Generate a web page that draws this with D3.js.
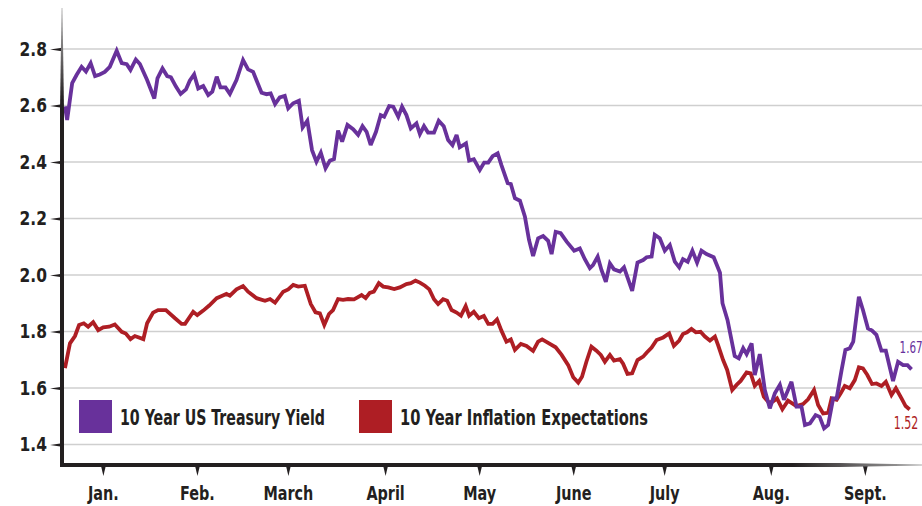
<!DOCTYPE html>
<html><head><meta charset="utf-8">
<script src="https://cdn.jsdelivr.net/npm/d3@7"></script>
<style>
html,body{margin:0;padding:0;background:#fff;}
svg{display:block;}
.lab{font-family:"DejaVu Sans Condensed","DejaVu Sans",sans-serif;font-weight:bold;fill:#231f20;}
.end{font-family:"DejaVu Sans Condensed","DejaVu Sans",sans-serif;}
</style></head><body>
<svg id="chart" width="922" height="506"></svg>
<script>
// day of year (Jan 1 = 0) and value
const yieldDays = [1.9,2.6,4.2,5.6,7.2,8.6,10.1,11.5,13.0,14.6,16.2,18.4,20.0,21.6,22.8,24.5,25.8,28.1,30.4,31.4,33.0,34.5,35.7,37.3,38.8,40.5,41.7,43.1,44.4,46.0,47.6,48.9,50.3,51.5,53.1,54.5,56.6,58.7,60.3,61.9,64.6,66.2,67.5,68.9,70.4,72.0,73.1,74.7,76.5,77.7,79.2,80.7,82.1,83.5,85.0,86.4,87.7,89.0,90.3,92.0,93.8,95.4,96.8,98.1,99.4,101.1,102.6,103.7,105.3,106.6,108.2,109.4,110.8,112.2,114.0,115.1,116.4,117.7,119.6,121.1,122.7,124.1,125.5,126.8,127.8,129.8,130.8,132.3,134.2,135.6,136.9,138.3,139.9,141.1,143.1,144.1,145.4,147.0,148.6,149.9,151.2,152.8,154.4,156.0,157.1,158.4,160.0,161.9,164.3,166.1,167.7,169.3,170.3,171.8,173.0,174.4,175.7,177.0,178.9,180.2,181.5,182.8,184.5,186.3,187.4,189.0,190.0,191.6,193.2,194.8,196.4,197.8,199.0,200.5,202.0,203.5,204.9,206.5,208.8,210.8,211.6,213.2,215.5,216.8,218.2,219.3,220.9,221.9,223.5,225.1,226.7,228.3,229.9,231.2,233.6,235.2,236.8,237.9,239.5,241.3,242.6,244.0,245.3,246.9,248.0,249.6,250.8,252.2,253.3,255.1,256.4,258.0,259.3,260.7,262.3,263.7,266.0,267.6,269.2,270.6,271.9];
const yieldValues = [2.597,2.549,2.679,2.708,2.737,2.72,2.75,2.704,2.71,2.719,2.737,2.794,2.75,2.746,2.726,2.763,2.747,2.69,2.625,2.696,2.731,2.704,2.70,2.667,2.641,2.657,2.688,2.71,2.66,2.669,2.637,2.649,2.702,2.664,2.664,2.641,2.69,2.761,2.728,2.719,2.645,2.64,2.643,2.605,2.629,2.634,2.59,2.608,2.617,2.522,2.546,2.442,2.401,2.433,2.378,2.405,2.41,2.511,2.472,2.531,2.516,2.496,2.527,2.507,2.46,2.507,2.566,2.56,2.598,2.596,2.56,2.596,2.566,2.519,2.537,2.499,2.527,2.504,2.504,2.546,2.527,2.478,2.46,2.496,2.452,2.466,2.405,2.41,2.372,2.398,2.398,2.421,2.431,2.389,2.325,2.322,2.272,2.263,2.206,2.124,2.067,2.13,2.138,2.121,2.074,2.153,2.148,2.118,2.086,2.094,2.056,2.024,2.035,2.065,2.018,1.976,2.041,2.02,2.012,2.027,1.985,1.944,2.044,2.053,2.063,2.065,2.142,2.13,2.086,2.106,2.047,2.027,2.056,2.047,2.086,2.044,2.086,2.074,2.063,2.008,1.90,1.841,1.713,1.705,1.741,1.72,1.758,1.646,1.72,1.593,1.528,1.581,1.611,1.558,1.622,1.534,1.534,1.469,1.475,1.504,1.498,1.457,1.469,1.563,1.563,1.664,1.735,1.741,1.764,1.923,1.876,1.811,1.803,1.788,1.732,1.732,1.625,1.693,1.681,1.681,1.666];

const inflationDays = [1.9,3.5,5.1,6.4,7.9,9.3,10.9,12.5,14.1,16.0,17.8,20.0,21.3,22.8,24.2,26.9,28.1,30.0,31.6,34.1,37.0,39.1,40.2,42.8,44.1,46.0,47.9,50.3,51.9,53.4,54.5,56.6,58.7,60.3,63.0,65.7,67.3,68.9,71.5,73.1,74.7,76.3,78.4,80.3,81.8,83.2,84.6,86.1,87.4,89.0,90.6,92.2,94.1,96.5,97.8,99.1,100.4,102.0,103.4,105.0,106.9,108.7,110.8,112.2,113.7,115.1,116.7,118.1,119.6,120.9,122.5,123.8,125.2,126.8,128.2,129.7,130.8,132.3,133.9,135.5,136.9,138.3,139.7,141.1,142.7,144.1,145.4,147.3,149.1,151.2,152.8,154.1,156.0,158.4,160.3,162.4,164.0,165.6,166.8,168.2,169.8,171.4,172.8,174.1,175.7,177.0,178.9,179.9,181.3,182.8,184.5,186.3,187.4,189.0,190.6,192.7,194.6,196.1,197.8,199.0,200.3,201.7,203.1,204.6,206.0,207.6,209.2,210.2,211.8,213.1,214.7,216.1,217.4,219.3,220.6,221.9,223.3,224.8,226.4,227.7,229.0,230.7,232.5,235.2,237.3,238.9,240.8,242.1,243.7,245.3,246.4,248.0,249.3,250.6,252.2,253.8,255.1,256.4,257.8,259.3,260.7,262.3,263.7,265.5,266.9,268.7,270.0,271.3];
const inflationValues = [1.67,1.758,1.784,1.823,1.829,1.817,1.833,1.805,1.815,1.817,1.825,1.799,1.793,1.773,1.784,1.773,1.829,1.867,1.876,1.876,1.847,1.827,1.827,1.87,1.858,1.874,1.892,1.918,1.926,1.933,1.927,1.949,1.961,1.941,1.918,1.909,1.915,1.902,1.941,1.949,1.965,1.959,1.962,1.897,1.868,1.864,1.823,1.862,1.876,1.915,1.912,1.915,1.914,1.929,1.918,1.937,1.941,1.971,1.959,1.956,1.95,1.956,1.968,1.971,1.98,1.973,1.962,1.949,1.914,1.897,1.914,1.909,1.876,1.867,1.856,1.89,1.856,1.87,1.847,1.855,1.827,1.827,1.843,1.803,1.764,1.772,1.735,1.756,1.749,1.731,1.764,1.772,1.76,1.744,1.717,1.681,1.638,1.619,1.64,1.693,1.746,1.732,1.717,1.693,1.717,1.697,1.702,1.686,1.65,1.652,1.699,1.711,1.725,1.743,1.77,1.779,1.793,1.749,1.768,1.791,1.797,1.809,1.797,1.799,1.782,1.768,1.782,1.752,1.699,1.664,1.593,1.611,1.625,1.655,1.652,1.608,1.625,1.569,1.548,1.552,1.563,1.525,1.555,1.536,1.543,1.56,1.593,1.54,1.51,1.512,1.563,1.558,1.581,1.607,1.599,1.628,1.673,1.669,1.646,1.614,1.616,1.607,1.622,1.575,1.599,1.563,1.536,1.524];

const yTicks = [1.4, 1.6, 1.8, 2.0, 2.2, 2.4, 2.6, 2.8];
const monthLabels = ["Jan.", "Feb.", "March", "April", "May", "June", "July", "Aug.", "Sept."];
const monthTickDays = [14, 44, 73, 104, 134, 164, 193, 227, 257];
const seriesNames = ["10 Year US Treasury Yield", "10 Year Inflation Expectations"];
const seriesColors = ["#68319b", "#ae1e24"];
const endLabels = ["1.67", "1.52"];

const svg = d3.select("#chart");
const W = 922, H = 506;
const axisX = 62, axisY = 465;

const x = d3.scaleLinear().domain([0, 273]).range([59, 915]);
const y = d3.scaleLinear().domain([1.4, 2.8]).range([444.5, 49]);

function squeeze(sel, k) {
  sel.each(function () {
    const w = this.getComputedTextLength();
    d3.select(this).attr("textLength", w * k).attr("lengthAdjust", "spacingAndGlyphs");
  });
}

const defs = svg.append("defs");
const gv = defs.append("linearGradient").attr("id", "gv").attr("x1", 0).attr("y1", 0).attr("x2", 0).attr("y2", 1);
gv.append("stop").attr("offset", 0).attr("stop-color", "#bbb");
gv.append("stop").attr("offset", 0.2).attr("stop-color", "#231f20");
gv.append("stop").attr("offset", 1).attr("stop-color", "#231f20");
const gh = defs.append("linearGradient").attr("id", "gh").attr("x1", 0).attr("y1", 0).attr("x2", 1).attr("y2", 0);
gh.append("stop").attr("offset", 0).attr("stop-color", "#231f20");
gh.append("stop").attr("offset", 0.85).attr("stop-color", "#231f20");
gh.append("stop").attr("offset", 1).attr("stop-color", "#aaa");

// gridlines
svg.append("g").selectAll("line").data(yTicks).join("line")
  .attr("x1", axisX).attr("x2", W)
  .attr("y1", d => y(d)).attr("y2", d => y(d))
  .attr("stroke", "#cfcfcf").attr("stroke-width", 1.5);

// lines
const line = d3.line().x(d => x(d[0])).y(d => y(d[1]));
const yieldData = yieldDays.map((d, i) => [d, yieldValues[i]]);
const inflData = inflationDays.map((d, i) => [d, inflationValues[i]]);
svg.append("path").datum(inflData).attr("d", line)
  .attr("fill", "none").attr("stroke", seriesColors[1]).attr("stroke-width", 3.8)
  .attr("stroke-linejoin", "miter").attr("stroke-miterlimit", 3);
svg.append("path").datum(yieldData).attr("d", line)
  .attr("fill", "none").attr("stroke", seriesColors[0]).attr("stroke-width", 3.8)
  .attr("stroke-linejoin", "miter").attr("stroke-miterlimit", 3);

// y axis
const ya = svg.append("g").attr("transform", `translate(${axisX},0)`)
  .call(d3.axisLeft(y).tickValues(yTicks).tickFormat(d3.format(".1f")).tickSize(0).tickPadding(15));
ya.select(".domain").remove();
ya.attr("font-family", null).attr("font-size", null);
ya.selectAll("text").attr("class", "lab").attr("font-size", 20);
squeeze(ya.selectAll("text"), 0.86);
ya.selectAll(".tick").append("path").attr("d", "M-12,0L0,-1.8L0,1.8Z").attr("fill", "#231f20");

// x axis
const xa = svg.append("g").attr("transform", `translate(0,${axisY})`)
  .call(d3.axisBottom(x).tickValues(monthTickDays).tickFormat((d, i) => monthLabels[i]).tickSize(0).tickPadding(21));
xa.select(".domain").remove();
xa.attr("font-family", null).attr("font-size", null);
xa.selectAll("text").attr("class", "lab").attr("font-size", 20);
squeeze(xa.selectAll("text"), 0.8);
xa.selectAll(".tick").append("path").attr("d", "M-2.6,0L2.6,0L0,11Z").attr("fill", "#231f20");

// axis bars
svg.append("path").attr("d", `M${axisX-0.5},8L${axisX+0.5},8L${axisX+2},110L${axisX+2},${axisY+2}L${axisX-2},${axisY+2}L${axisX-2},110Z`).attr("fill", "url(#gv)");
svg.append("path").attr("d", `M${axisX-2},${axisY-2}L840,${axisY-2}L${W},${axisY-0.6}L${W},${axisY+0.6}L840,${axisY+2}L${axisX-2},${axisY+2}Z`).attr("fill", "url(#gh)");

// legend
const lg = svg.append("g");
const legendX = [79, 359];
const legendW = [205, 248];
seriesNames.forEach((n, i) => {
  lg.append("rect").attr("x", legendX[i]).attr("y", 400).attr("width", 33).attr("height", 33).attr("fill", seriesColors[i]);
  lg.append("text").attr("class", "lab").attr("x", legendX[i] + 41).attr("y", 425).attr("font-size", 21)
    .attr("textLength", legendW[i]).attr("lengthAdjust", "spacingAndGlyphs").text(n);
});

// end labels (horizontally condensed with a transform)
const lastY = yieldData[yieldData.length - 1], lastI = inflData[inflData.length - 1];
svg.append("g").attr("transform", `translate(${x(lastY[0]) - 12},${y(lastY[1]) - 16}) scale(0.72,1)`)
  .append("text").attr("class", "end").attr("font-size", 16).attr("fill", seriesColors[0]).text(endLabels[0]);
svg.append("g").attr("transform", `translate(${x(lastI[0]) - 16},${y(lastI[1]) + 20}) scale(0.72,1)`)
  .append("text").attr("class", "end").attr("font-size", 17).attr("fill", seriesColors[1]).text(endLabels[1]);
</script>
</body></html>
